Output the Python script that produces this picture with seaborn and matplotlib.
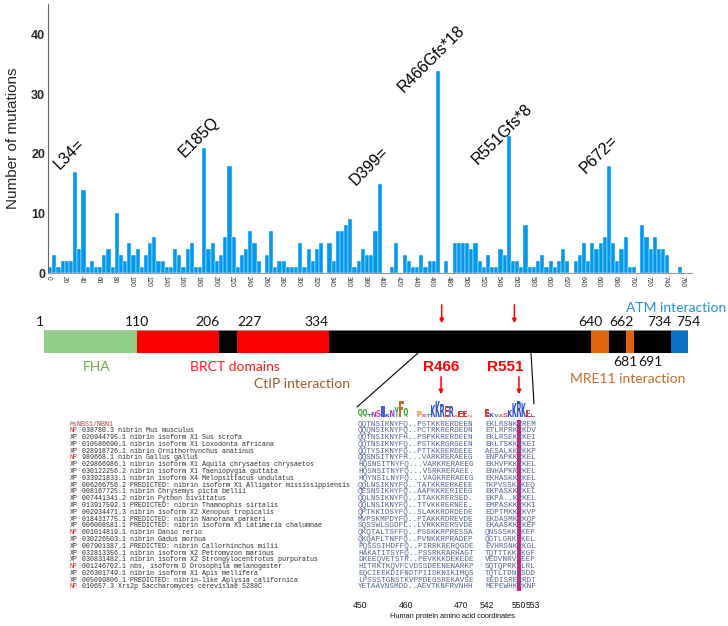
import matplotlib
matplotlib.use("Agg")
import matplotlib.pyplot as plt
import numpy as np
import pandas as pd
import seaborn as sns
from matplotlib.textpath import TextPath
from matplotlib.patches import PathPatch, Rectangle
from matplotlib.font_manager import FontProperties
from matplotlib.transforms import Affine2D

# ---- mutation counts per 5-residue bin (bin start 0..755) ----
bin_start = list(range(0, 760, 5))
mutations = [
    1, 3, 1, 2, 2, 2, 17, 4, 14, 1,
    2, 1, 1, 3, 4, 1, 10, 3, 2, 5,
    3, 4, 1, 3, 5, 6, 2, 2, 1, 1,
    4, 3, 1, 4, 5, 1, 1, 21, 4, 5,
    2, 3, 6, 18, 6, 1, 3, 4, 7, 5,
    2, 0, 3, 7, 1, 2, 2, 1, 1, 1,
    5, 1, 4, 2, 4, 5, 0, 5, 2, 7,
    7, 8, 9, 1, 2, 4, 3, 3, 7, 15,
    0, 0, 1, 5, 0, 3, 2, 1, 1, 3,
    1, 2, 2, 34, 0, 2, 0, 5, 5, 5,
    5, 4, 5, 2, 1, 3, 1, 1, 4, 3,
    23, 2, 2, 1, 8, 1, 1, 2, 3, 1,
    2, 1, 2, 4, 2, 0, 2, 3, 5, 2,
    5, 4, 5, 6, 18, 5, 2, 4, 6, 1,
    1, 0, 8, 6, 4, 6, 4, 4, 3, 0,
    0, 1,
]
hotspot_labels = ["L34=", "E185Q", "D399=", "R466Gfs*18", "R551Gfs*8", "P672="]
hotspot_bins = [30, 185, 395, 465, 550, 670]

# ---- NBS1 domain map ----
domain_start = [1, 110, 206, 227, 334, 640, 662, 681, 691, 734]
domain_end = [110, 206, 227, 334, 640, 662, 681, 691, 734, 754]
domain_kind = ["FHA", "BRCT", "other", "BRCT", "other", "MRE11", "other", "MRE11", "other", "ATM"]
top_numbers = [1, 110, 206, 227, 334, 640, 662, 734, 754]
bottom_numbers = [681, 691]
hotspot_residues = [466, 551]

# ---- alignment ----
seq_names = [
    "HsNBS1/NBN1",
    "NP 038780.3 nibrin Mus musculus",
    "XP 020944795.1 nibrin isoform X1 Sus scrofa",
    "XP 010586690.1 nibrin isoform X1 Loxodonta africana",
    "XP 028918726.1 nibrin Ornithorhynchus anatinus",
    "NP 989668.1 nibrin Gallus gallus",
    "XP 029866986.1 nibrin isoform X1 Aquila chrysaetos chrysaetos",
    "XP 030122256.2 nibrin isoform X1 Taeniopygia guttata",
    "XP 033921833.1 nibrin isoform X4 Melopsittacus undulatus",
    "XP 006266756.2 PREDICTED: nibrin isoform X1 Alligator mississippiensis",
    "XP 008167725.1 nibrin Chrysemys picta bellii",
    "XP 007441341.2 nibrin Python bivittatus",
    "XP 013917592.1 PREDICTED: nibrin Thamnophis sirtalis",
    "XP 002934471.3 nibrin isoform X2 Xenopus tropicalis",
    "XP 018431775.1 PREDICTED: nibrin Nanorana parkeri",
    "XP 006008581.1 PREDICTED: nibrin isoform X1 Latimeria chalumnae",
    "NP 001014819.1 nibrin Danio rerio",
    "XP 030226503.1 nibrin Gadus morhua",
    "XP 007901387.1 PREDICTED: nibrin Callorhinchus milii",
    "XP 032813356.1 nibrin isoform X2 Petromyzon marinus",
    "XP 030831482.1 nibrin isoform X2 Strongylocentrotus purpuratus",
    "NP 001246702.1 nbs, isoform D Drosophila melanogaster",
    "XP 026301749.1 nibrin isoform X1 Apis mellifera",
    "XP 005099806.1 PREDICTED: nibrin-like Aplysia californica",
    "NP 010657.3 Xrs2p Saccharomyces cerevisiae S288C",
]
aln_left = [
    "QQTNSIRNYFQ..PSTKKRERDEEN", "QQQNSIKNYFQ..PCTRKRERDEDN", "QQTNSIKNYFH..PSPKKRERDEEN",
    "QQTNSIKNYFQ..PSTKKRGRGEEN", "QQTYSIKNYFQ..PTTKKRERDEEE", "QQSNSITNYFH...VARKRERAEEG",
    "HQSNSITNYFQ...VARKRERAEEG", "HQSNSITNYFQ...VSRKRERAEE.", "HQYNSILNYFQ...VAGKRERAEEG",
    "QQLNSIKNYFQ..TATKKRERKEEE", "QESNSIKHYFQ..AAPKKRERIEEG", "QQLNSIKNYFQ..ITAKKRERSED.",
    "QQLNSIKNYFQ..TTVKKRERNEE.", "QPTKKIDSYFQ..SLAKKRDRDEDE", "MVPSKMPDYFQ..PTAKKRDREVDE",
    "SQSSWLSGDFL..LVRKKRERSVDE", "QKQTALTSFFQ..PSSKKRPRESSA", "QKQAPLTNFFQ..PVNKKRPRADEP",
    "PQSSSIHDFFQ..PIRRKRERQGDE", "HAKATITSYFQ..PSSRKRARHAGT", "DKEEQVETSTR..PEVKKKDEKEDE",
    "HITRKTKQVFCVDSSDEENENARKP", "EQCIEEKDIFNDTPIIDKNIKIMQS", "LPSSSTGNSTKVPPDEGSREKAVSE",
    "YETAAVNSMDD..AEVTKNFRVNHH",
]
aln_right = [
    "EKLRSNKRREM", "ETLRPRKRKDV", "EKLRSEKRKEI", "EKLTSKKRKEI", "AESALKKRKKP",
    "ENPAPKKRKEL", "EKHVPKKRKEL", "ENHAPKRRKEL", "EKHASKKRKEL", "TKPVSSKRKEQ",
    "EKPASKKRKEL", "EKPA..KRKEL", "EMPASKKRKKI", "EDPTMKKRKVP", "EKDASMKRKQP",
    "EKAASKKRKEP", "QNSSSKKRKEP", "QGTLGRKRKEL", "EVHRSNKRKGL", "TQTTTKKRKGF",
    "VEDVNRVREEP", "SQTQPRKRLRL", "TQTLTDNRSDD", "EEDISRERRDT", "MEPEWHKRKNF",
]
aln_tick_labels = ["450", "460", "470", "542", "550", "553"]
logo_left = "QQTNSIKNYFQ..PSTKKRERAEEG"
logo_left_height = [8, 8, 3, 5, 7, 11, 3, 7, 10, 16, 9, 0, 0, 6, 3, 3, 12, 16, 13, 11, 11, 2, 6, 6, 2]
logo_right = "EKVASKKRKEL"
logo_right_height = [8, 4, 3, 3, 4, 7, 14, 16, 14, 7, 3]

# ---------------- figure ----------------
sns.set_style("white")
plt.rcParams["font.family"] = ["Liberation Sans", "DejaVu Sans"]
W, H = 728, 626
fig = plt.figure(figsize=(W / 100, H / 100), dpi=100)

# overlay axes in pixel coordinates (for alignment panel)
ax_px = fig.add_axes([0, 0, 1, 1])
ax_px.set_xlim(0, W)
ax_px.set_ylim(H, 0)
ax_px.axis("off")

# ---- histogram of mutations ----
ax = fig.add_axes([48 / W, 1 - 273 / H, 644 / W, 269 / H])
df = pd.DataFrame({"pos": np.array(bin_start) + 2.5, "n": mutations})
sns.barplot(data=df, x="pos", y="n", native_scale=True, color="#0099ee",
            saturation=1, width=1.0, edgecolor="white", linewidth=0.3, ax=ax)
ax.set_xlim(0, 772)
ax.set_ylim(0, 45.2)
ax.set_xticks(range(0, 761, 20))
ax.set_xticklabels([str(v) for v in range(0, 761, 20)], rotation=-90,
                   fontsize=4.8, color="#333333")
ax.set_yticks([0, 10, 20, 30, 40])
ax.set_yticklabels(["0", "10", "20", "30", "40"], fontsize=9, fontweight="bold")
ax.tick_params(axis="both", length=0, pad=2)
ax.set_xlabel("")
ax.set_ylabel("Number of mutations", fontsize=11, labelpad=8)
for side in ["top", "right"]:
    ax.spines[side].set_visible(False)
ax.spines["left"].set_color("#666666")
ax.spines["bottom"].set_color("#999999")
ax.spines["left"].set_linewidth(0.8)
ax.spines["bottom"].set_linewidth(0.8)

label_offsets = [(-15, 2), (-20, -10), (-24, -2), (-34, -22), (-31, -29), (-23, -8)]
for lab, b, (dx, dy) in zip(hotspot_labels, hotspot_bins, label_offsets):
    i = bin_start.index(b)
    ax.annotate(lab, xy=(b + 2.5, mutations[i]), xytext=(dx * 0.72, dy * 0.72),
                textcoords="offset points", rotation=45, rotation_mode="anchor",
                ha="left", va="baseline", fontsize=11.5, color="black")

# ---- domain map ----
dom_colors = {"FHA": "#92d08a", "BRCT": "#ff0000", "other": "#000000",
              "MRE11": "#e0640f", "ATM": "#0a72c8"}
ax_d = fig.add_axes([44 / W, 1 - 400 / H, 644 / W, 105 / H])
ax_d.set_xlim(1, 754)
ax_d.set_ylim(400, 295)
ax_d.axis("off")
ax_d.barh([341.5] * len(domain_start), np.array(domain_end) - np.array(domain_start),
          left=domain_start, height=23,
          color=[dom_colors[k] for k in domain_kind], linewidth=0)
ax_d.plot([1, 754], [330, 330], color="#bbbbbb", lw=0.5)

dfont = dict(family=["Lato", "DejaVu Sans"], fontsize=10)
top_ha = ["right", "center", "right", "left", "right", "center", "left", "right", "center"]
for v, ha in zip(top_numbers, top_ha):
    ax_d.text(v, 328, str(v), ha=ha, va="bottom", color="#111111", **dfont)
bot_dx = [0, 16]
for v, dx in zip(bottom_numbers, bot_dx):
    ax_d.annotate(str(v), xy=(v, 356), xytext=(dx * 0.72, 0), textcoords="offset points",
                  ha="center", va="top", color="#111111", **dfont)

ax_d.text(63, 367, "FHA", ha="center", va="center", color="#6aaa45", **dfont)
ax_d.text(224, 367, "BRCT domains", ha="center", va="center", color="#ff1a1a", **dfont)
ax_d.text(303, 384, "CtIP interaction", ha="center", va="center", color="#a0582a", **dfont)
ax_d.text(684, 379, "MRE11 interaction", ha="center", va="center", color="#c56a2a", **dfont)
ax_d.text(740, 308, "ATM interaction", ha="center", va="center", color="#1f90d8", **dfont)

for r in hotspot_residues:
    ax_d.annotate("", xy=(r, 326), xytext=(r, 302),
                  arrowprops=dict(arrowstyle="-|>", color="red", lw=1.1, mutation_scale=6))

# ---- alignment panel (pixel coordinates) ----
ax_px.plot([418, 357], [353, 407], color="black", lw=0.8)
ax_px.plot([531, 534], [353, 404], color="black", lw=0.8)

for lab, x in zip(["R466", "R551"], [441, 505]):
    ax_px.text(x, 367, lab, ha="center", va="center", color="red",
               fontsize=11, fontweight="bold")
for x in [441, 519]:
    ax_px.annotate("", xy=(x, 397), xytext=(x, 374),
                   arrowprops=dict(arrowstyle="-|>", color="red", lw=1.1, mutation_scale=6))

row0, dy_row = 424, 6.79
cw = 4.56
xl, xr = 358, 485
mono = ["Liberation Mono", "DejaVu Sans Mono"]
name_fs = 4.8
name_cw = 0.6 * name_fs * 100 / 72
ax_px.add_patch(Rectangle((xr + 7 * cw, row0 - 4), cw, dy_row * 24 + 8,
                          color="#e2138a", lw=0))
for i, (name, sl, sr) in enumerate(zip(seq_names, aln_left, aln_right)):
    y = row0 + i * dy_row
    ax_px.text(xl, y, sl, family=mono, fontsize=5.47, color="#55658f",
               ha="left", va="center")
    ax_px.text(xr, y, sr, family=mono, fontsize=5.47, color="#55658f",
               ha="left", va="center")
    if i == 0:
        ax_px.text(70, y, name, family=mono, fontsize=name_fs, color="#a04848",
                   ha="left", va="center")
    else:
        pre, rest = name.split(" ", 1)
        ax_px.text(70, y, pre, family=mono, fontsize=name_fs,
                   color="#cc3030" if pre == "NP" else "#402828", ha="left", va="center")
        ax_px.text(70 + 3 * name_cw, y, rest, family=mono, fontsize=name_fs,
                   color="#2a2a2a", ha="left", va="center")

# sequence logo
logo_colors = {"Q": "#2fa52f", "N": "#a040c0", "S": "#e8509a", "T": "#3fae6a",
               "I": "#3a63d8", "K": "#2a4bd0", "R": "#3050c8", "Y": "#35a060",
               "F": "#b87030", "P": "#f09040", "E": "#e03a3a", "D": "#e03a3a",
               "G": "#e09040", "A": "#d08030", "V": "#5a7ad0", "L": "#7070c0"}
fp = FontProperties(family="DejaVu Sans", weight="bold")


def draw_letter(ch, x, base, w, h, color):
    tp = TextPath((0, 0), ch, size=10, prop=fp)
    bb = tp.get_extents()
    tr = (Affine2D().translate(-bb.x0, -bb.y0)
          .scale(w / bb.width, -h / bb.height).translate(x, base))
    ax_px.add_patch(PathPatch(tr.transform_path(tp), facecolor=color, lw=0))


for start, letters, heights in [(xl, logo_left, logo_left_height),
                                (xr, logo_right, logo_right_height)]:
    for j, (ch, h) in enumerate(zip(letters, heights)):
        if ch == "." or h == 0:
            continue
        draw_letter(ch, start + j * cw + 0.1, 417, cw - 0.2, h,
                    logo_colors.get(ch, "#666666"))

tick_cols = [(xl, 0), (xl, 10), (xl, 22), (xr, 0), (xr, 7), (xr, 10)]
for lab, (s, c) in zip(aln_tick_labels, tick_cols):
    ax_px.text(s + (c + 0.5) * cw, 605, lab, ha="center", va="center",
               fontsize=6.2, color="#111111")
ax_px.text(452, 617, "Human protein amino acid coordinates", ha="center",
           va="center", fontsize=5.3, color="#111111")

fig.savefig("out.png", dpi=100)
